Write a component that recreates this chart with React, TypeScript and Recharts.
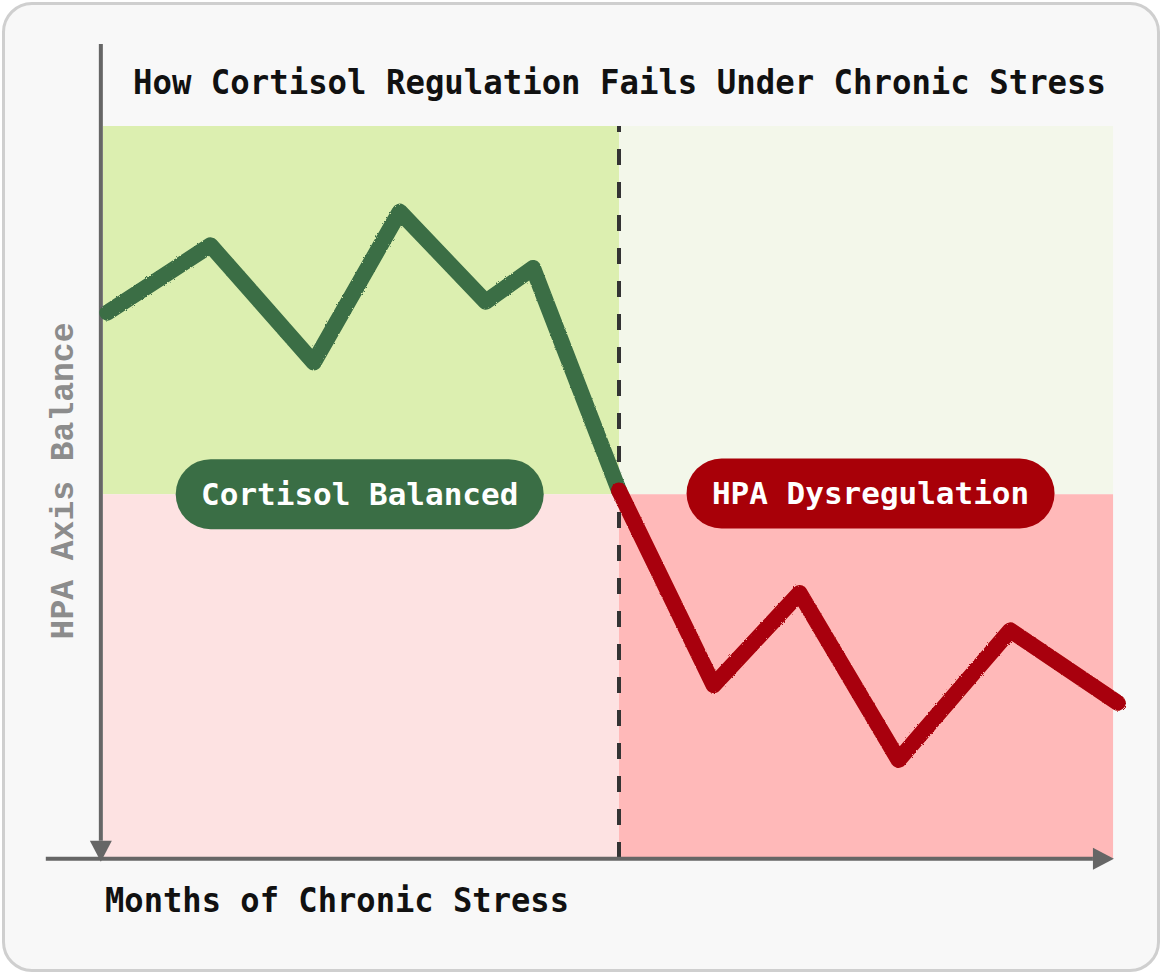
import { LineChart, Line, XAxis, YAxis, ReferenceArea, ReferenceLine, ReferenceDot } from 'recharts';

// months of chronic stress vs. HPA axis balance
const balancedMonths = [0.1, 2.5, 4.9, 6.9, 8.9, 10.0, 12];
const balancedLevels = [24.8, 34.0, 18.0, 38.6, 26.3, 30.9, 0.5];
const dysregMonths = [12, 14.2, 16.2, 18.5, 21.1, 23.6];
const dysregLevels = [0.5, -26.1, -13.5, -36.3, -18.6, -28.5];

const zoneLabels = ['Cortisol Balanced', 'HPA Dysregulation'];
const zoneLabelMonths = [5.97, 17.85];
const zoneLabelLevels = [0, 0.1];

const title = 'How Cortisol Regulation Fails Under Chronic Stress';
const xTitle = 'Months of Chronic Stress';
const yTitle = 'HPA Axis Balance';

const toPoints = (months: number[], levels: number[]) =>
  months.map((month, i) => ({ month, level: levels[i] }));

const balanced = toPoints(balancedMonths, balancedLevels);
const dysregulated = toPoints(dysregMonths, dysregLevels);

const GREEN = '#3a6e45';
const RED = '#a80008';
const AXIS = '#666666';
const MONO = '"DejaVu Sans Mono", monospace';

const Y_MIN = -49.7;
const Y_MAX = 50.3;

const ArrowAxis = (props: any) => {
  const { x1, y1, x2, y2 } = props;
  const ang = Math.atan2(y2 - y1, x2 - x1);
  const len = 21;
  const half = 11;
  const bx = x2 - len * Math.cos(ang);
  const by = y2 - len * Math.sin(ang);
  const px = -Math.sin(ang) * half;
  const py = Math.cos(ang) * half;
  return (
    <g>
      <line x1={x1} y1={y1} x2={bx} y2={by} stroke={AXIS} strokeWidth={4} />
      <polygon points={`${x2},${y2} ${bx + px},${by + py} ${bx - px},${by - py}`} fill={AXIS} />
    </g>
  );
};

const pill = (text: string, fill: string) => (props: any) => {
  const { cx, cy } = props;
  const w = 368;
  const h = 70;
  return (
    <g>
      <rect x={cx - w / 2} y={cy - h / 2} width={w} height={h} rx={h / 2} fill={fill} />
      <text
        x={cx}
        y={cy + 11}
        textAnchor="middle"
        fill="#ffffff"
        fontFamily={MONO}
        fontWeight="bold"
        fontSize={31}
      >
        {text}
      </text>
    </g>
  );
};

export default function App() {
  return (
    <div style={{ position: 'absolute', left: 0, top: 0, width: 1162, height: 974 }}>
      <div
        style={{
          position: 'absolute',
          left: 2,
          top: 2,
          width: 1158,
          height: 970,
          boxSizing: 'border-box',
          border: '3px solid #cfcfcf',
          borderRadius: 30,
          background: '#f8f8f8',
        }}
      />
      <div style={{ position: 'absolute', left: 0, top: 0 }}>
        <LineChart width={1162} height={974} margin={{ top: 126, right: 27, bottom: 116, left: 103 }}>
          <XAxis type="number" dataKey="month" domain={[0, 24]} hide />
          <YAxis type="number" dataKey="level" domain={[Y_MIN, Y_MAX]} hide />

          <ReferenceArea x1={0} x2={12} y1={0} y2={Y_MAX} fill="#dcefb0" fillOpacity={1} stroke="none" />
          <ReferenceArea x1={12} x2={23.49} y1={0} y2={Y_MAX} fill="#f3f7ea" fillOpacity={1} stroke="none" />
          <ReferenceArea x1={0} x2={12} y1={Y_MIN} y2={0} fill="#fde2e2" fillOpacity={1} stroke="none" />
          <ReferenceArea x1={12} x2={23.49} y1={Y_MIN} y2={0} fill="#ffb9b9" fillOpacity={1} stroke="none" />

          <ReferenceLine x={12} stroke="#333333" strokeWidth={4} strokeDasharray="16 17" />

          <ReferenceLine
            segment={[{ x: -1.33, y: Y_MIN - 0.1 }, { x: 23.51, y: Y_MIN - 0.1 }]}
            ifOverflow="visible"
            shape={ArrowAxis}
          />
          <ReferenceLine
            segment={[{ x: -0.05, y: Y_MAX + 11.2 }, { x: -0.05, y: Y_MIN - 0.5 }]}
            ifOverflow="visible"
            shape={ArrowAxis}
          />

          <Line
            data={balanced}
            dataKey="level"
            stroke={GREEN}
            strokeWidth={16}
            strokeLinecap="round"
            strokeLinejoin="round"
            dot={false}
            activeDot={false}
            type="linear"
            filter="url(#brush)"
            isAnimationActive={false}
          />
          <Line
            data={dysregulated}
            dataKey="level"
            stroke={RED}
            strokeWidth={16}
            strokeLinecap="round"
            strokeLinejoin="round"
            dot={false}
            activeDot={false}
            type="linear"
            filter="url(#brush)"
            isAnimationActive={false}
          />

          {zoneLabels.map((t, i) => (
            <ReferenceDot
              key={t}
              x={zoneLabelMonths[i]}
              y={zoneLabelLevels[i]}
              ifOverflow="visible"
              shape={pill(t, i === 0 ? GREEN : RED)}
            />
          ))}
        </LineChart>
      </div>
      <svg
        width={1162}
        height={974}
        style={{ position: 'absolute', left: 0, top: 0, pointerEvents: 'none' }}
      >
        <defs>
          <filter id="brush" x="-5%" y="-5%" width="110%" height="110%">
            <feTurbulence type="fractalNoise" baseFrequency="0.9" numOctaves={2} result="noise" />
            <feDisplacementMap in="SourceGraphic" in2="noise" scale={2.5} />
          </filter>
        </defs>
        <text
          x={619.5}
          y={94}
          textAnchor="middle"
          fontFamily={MONO}
          fontWeight="bold"
          fontSize={34}
          textLength={973}
          lengthAdjust="spacingAndGlyphs"
          fill="#111111"
        >
          {title}
        </text>
        <text
          x={105}
          y={912}
          fontFamily={MONO}
          fontWeight="bold"
          fontSize={33}
          textLength={464}
          lengthAdjust="spacingAndGlyphs"
          fill="#111111"
        >
          {xTitle}
        </text>
        <text
          x={73}
          y={481}
          transform="rotate(-90 73 481)"
          textAnchor="middle"
          fontFamily='"Liberation Mono", monospace'
          fontWeight="bold"
          fontSize={33}
          fill="#8c8c8c"
        >
          {yTitle}
        </text>
      </svg>
    </div>
  );
}
